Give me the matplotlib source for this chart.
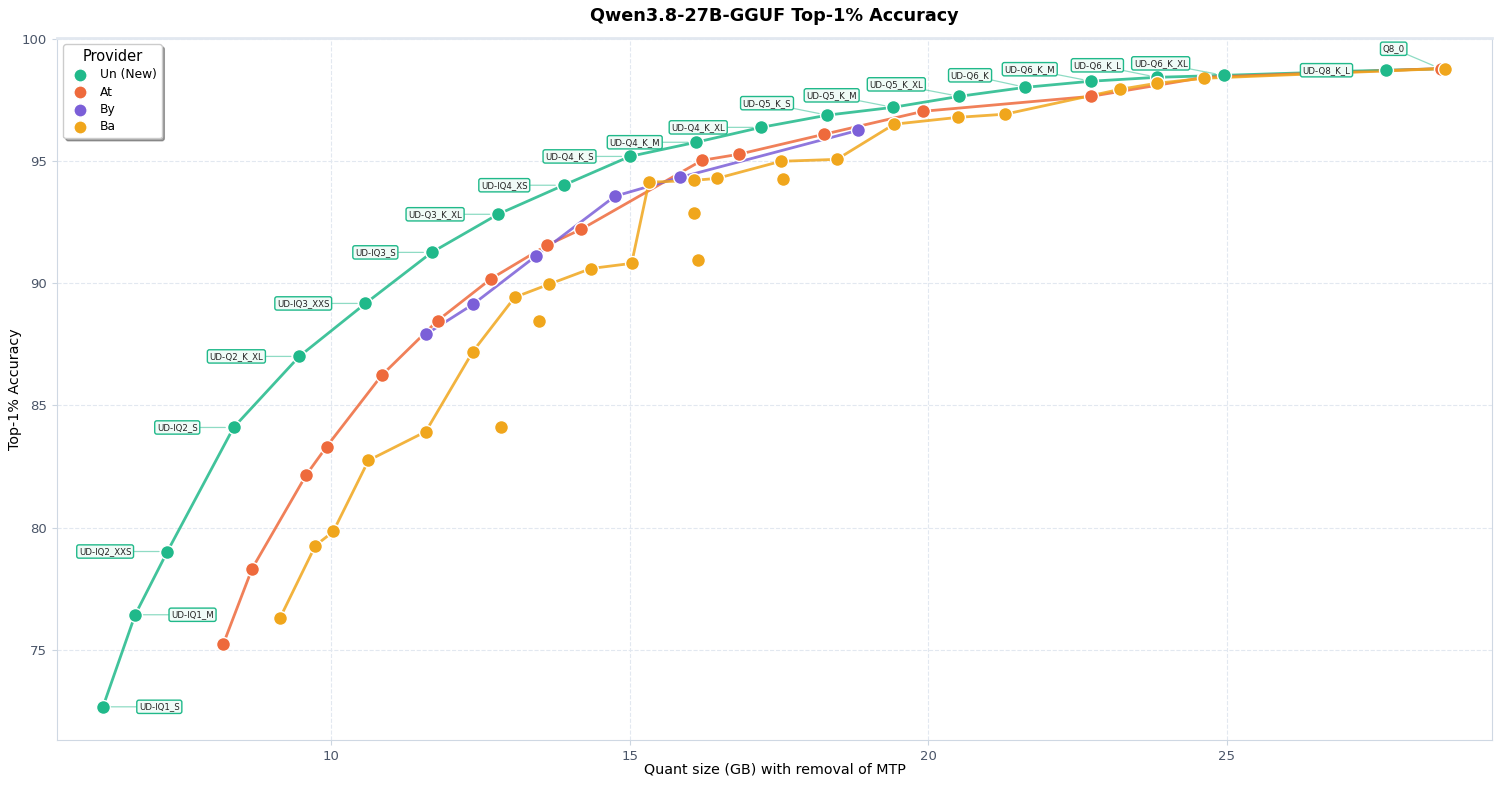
import matplotlib
matplotlib.use("Agg")
from matplotlib import pyplot as plt

# Unsloth (new) quants
un_names = ["UD-IQ1_S", "UD-IQ1_M", "UD-IQ2_XXS", "UD-IQ2_S", "UD-Q2_K_XL",
            "UD-IQ3_XXS", "UD-IQ3_S", "UD-Q3_K_XL", "UD-IQ4_XS", "UD-Q4_K_S",
            "UD-Q4_K_M", "UD-Q4_K_XL", "UD-Q5_K_S", "UD-Q5_K_M", "UD-Q5_K_XL",
            "UD-Q6_K", "UD-Q6_K_M", "UD-Q6_K_L", "UD-Q6_K_XL", "UD-Q8_K_L", "Q8_0"]
un_size = [6.17, 6.71, 7.25, 8.36, 9.46, 10.57, 11.68, 12.79, 13.89, 15.00,
           16.11, 17.20, 18.31, 19.41, 20.52, 21.63, 22.73, 23.84, 24.95, 27.68, 28.59]
un_acc = [72.66, 76.43, 79.02, 84.10, 87.01, 89.18, 91.27, 92.83, 94.02, 95.20,
          95.78, 96.39, 96.89, 97.21, 97.66, 98.03, 98.28, 98.44, 98.52, 98.73, 98.79]

at_size = [8.19, 8.67, 9.58, 9.92, 10.84, 11.78, 12.68, 13.61, 14.18, 16.21,
           16.83, 18.26, 19.92, 22.73, 24.63, 28.59]
at_acc = [75.25, 78.32, 82.17, 83.32, 86.23, 88.48, 90.20, 91.56, 92.21, 95.04,
          95.29, 96.11, 97.05, 97.66, 98.44, 98.80]

by_size = [11.58, 12.37, 13.42, 14.75, 15.84, 18.83]
by_acc = [87.91, 89.14, 91.11, 93.57, 94.34, 96.27]

ba_size = [9.14, 9.73, 10.03, 10.62, 11.58, 12.37, 13.07, 13.64, 14.35, 15.03,
           15.32, 16.07, 16.46, 17.53, 18.47, 19.43, 20.50, 21.29, 23.22, 23.84,
           24.63, 28.66]
ba_acc = [76.31, 79.26, 79.84, 82.75, 83.93, 87.21, 89.43, 89.96, 90.61, 90.82,
          94.14, 94.22, 94.30, 95.00, 95.08, 96.52, 96.80, 96.93, 97.95, 98.20,
          98.40, 98.80]
# Ba quants that sit off the main curve (not joined)
ba_extra_size = [12.84, 13.47, 16.07, 16.14, 17.57]
ba_extra_acc = [84.10, 88.44, 92.87, 90.94, 94.26]

GREEN = "#20b98a"
ORANGE = "#ee6a3c"
PURPLE = "#7b5fd8"
YELLOW = "#f0a61c"

plt.rcParams['font.family'] = ['DejaVu Sans']

fig = plt.figure(figsize=(15, 7.85), dpi=100)
ax = fig.add_axes([0.038, 0.0573, 0.9567, 0.8943])

def series(x, y, color, label):
    ax.plot(x, y, color=color, lw=2, alpha=0.85, zorder=2)
    ax.scatter(x, y, s=100, color=color, edgecolor="white", linewidth=1,
               label=label, zorder=3)

series(un_size, un_acc, GREEN, "Un (New)")
series(at_size, at_acc, ORANGE, "At")
series(by_size, by_acc, PURPLE, "By")
series(ba_size, ba_acc, YELLOW, "Ba")
ax.scatter(ba_extra_size, ba_extra_acc, s=100, color=YELLOW, edgecolor="white",
           linewidth=1, zorder=3)

# label placement (pixels from the point)
for i, (name, x, y) in enumerate(zip(un_names, un_size, un_acc)):
    if i < 2:
        dx, ha = 36, "left"
    else:
        dx, ha = -36, "right"
    if 12 <= i <= 18:
        dy = 12
    elif i == 20:
        dy = 20
    else:
        dy = 0
    ax.annotate(name, (x, y), xytext=(dx, dy), textcoords="offset pixels",
                ha=ha, va="center", fontsize=6.2, color="#222222",
                bbox=dict(boxstyle="round,pad=0.25", fc="#f0fbf7", ec=GREEN, lw=1),
                arrowprops=dict(arrowstyle="-", color=GREEN, alpha=0.5, lw=0.9,
                                shrinkA=0, shrinkB=6),
                zorder=4)

ax.set_xlim(5.4, 29.45)
ax.set_ylim(71.3, 100.05)
ax.set_xticks([10, 15, 20, 25])
ax.set_yticks([75, 80, 85, 90, 95, 100])
ax.grid(True, linestyle="--", color="#e2e8f0", lw=0.8)
ax.set_axisbelow(True)
for side in ax.spines:
    ax.spines[side].set_color("#cfd8e3")
ax.spines["top"].set_linewidth(2)
ax.spines["top"].set_color("#e2e8f0")
ax.tick_params(colors="#cbd5e0", labelcolor="#4a5568", labelsize=9.5)

ax.set_title("Qwen3.8-27B-GGUF Top-1% Accuracy", fontsize=12.7, fontweight="bold", pad=12)
ax.set_xlabel("Quant size (GB) with removal of MTP", fontsize=10.3, labelpad=0)
ax.set_ylabel("Top-1% Accuracy", fontsize=10.3, labelpad=0)

leg = ax.legend(title="Provider", loc="upper left", fontsize=8.8, title_fontsize=10.5,
                shadow=True, frameon=True, fancybox=True, markerscale=0.95,
                borderaxespad=0.5, handletextpad=0.6, labelspacing=0.35)
leg.get_frame().set_edgecolor("#cccccc")

fig.savefig("out.png", dpi=100)
